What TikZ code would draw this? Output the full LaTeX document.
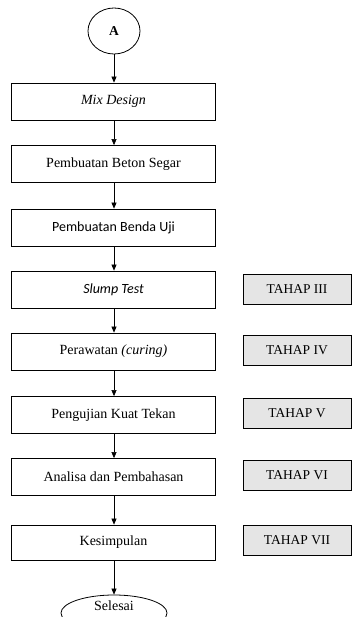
\documentclass[tikz,border=0pt]{standalone}
\usepackage{fontspec}
\setmainfont{Liberation Serif}
\newfontfamily\calib{Carlito}
\usetikzlibrary{arrows.meta,shapes.geometric}
\begin{document}
\begin{tikzpicture}[x=1pt,y=-1pt,
  box/.style={draw,line width=0.8pt,minimum width=204pt,minimum height=37pt,inner sep=0pt,
    font=\fontsize{14}{16}\selectfont},
  tahap/.style={draw,line width=0.8pt,fill=gray!20,minimum width=108pt,minimum height=30pt,inner sep=0pt,
    font=\fontsize{13.5}{15}\selectfont},
  arr/.style={-{Triangle[width=5pt,length=6pt]},line width=0.6pt}]
\clip (0,0) rectangle (352,617);
\node[ellipse,draw,line width=0.8pt,minimum width=52pt,minimum height=46pt,inner sep=0pt,
  font=\fontsize{13.5}{15}\selectfont\bfseries] (a) at (114,31) {A};
\node[box] (mix) at (113.5,101.5) {\itshape Mix Design};
\node[box] (beton) at (113.5,164) {Pembuatan Beton Segar};
\node[box,font=\calib\fontsize{14}{16}\selectfont] (benda) at (113.5,227.5) {Pembuatan Benda Uji};
\node[box,font=\calib\fontsize{14}{16}\selectfont\itshape] (slump) at (113.5,289.5) {Slump Test};
\node[box] (rawat) at (113.5,351.5) {Perawatan \textit{(curing)}};
\node[box] (uji) at (113.5,415) {Pengujian Kuat Tekan};
\node[box] (anal) at (113.5,477) {Analisa dan Pembahasan};
\node[box,minimum height=35pt] (kes) at (113.5,542.5) {Kesimpulan};
\node[ellipse,draw,line width=0.8pt,minimum width=106pt,minimum height=36pt,inner sep=0pt] (sel) at (114,613) {};
\node[font=\fontsize{14}{16}\selectfont,inner sep=0pt] (selt) at (114,606) {Selesai};
\node[tahap] (t3) at (297,289) {TAHAP III};
\node[tahap] (t4) at (297,350.5) {TAHAP IV};
\node[tahap] (t5) at (297,413) {TAHAP V};
\node[tahap] (t6) at (297,475) {TAHAP VI};
\node[tahap] (t7) at (297,540) {TAHAP VII};
\draw[arr] (a.south) -- (mix.north -| a.south);
\draw[arr] (mix.south -| a.south) -- (beton.north -| a.south);
\draw[arr] (beton.south -| a.south) -- (benda.north -| a.south);
\draw[arr] (benda.south -| a.south) -- (slump.north -| a.south);
\draw[arr] (slump.south -| a.south) -- (rawat.north -| a.south);
\draw[arr] (rawat.south -| a.south) -- (uji.north -| a.south);
\draw[arr] (uji.south -| a.south) -- (anal.north -| a.south);
\draw[arr] (anal.south -| a.south) -- (kes.north -| a.south);
\draw[arr] (kes.south -| a.south) -- (sel.north);
\end{tikzpicture}
\end{document}
